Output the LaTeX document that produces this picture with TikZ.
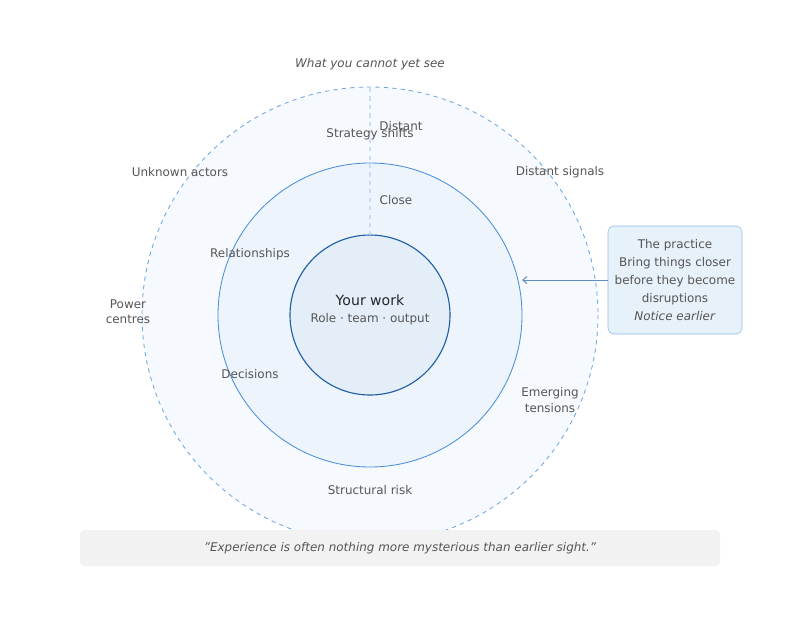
\documentclass[tikz,border=0pt]{standalone}
\usepackage{fontspec}
\setmainfont{DejaVu Sans}
\usetikzlibrary{arrows.meta,positioning}
\definecolor{ringblue}{HTML}{4A90D9}
\definecolor{coreblue}{HTML}{1F5FA8}
\definecolor{labelgray}{HTML}{555555}
\tikzset{
  lbl/.style = {font=\fontsize{8.5}{10.5}\selectfont, text=labelgray, align=center},
  ring/.style = {draw=ringblue, line width=0.6pt}
}
\begin{document}
\begin{tikzpicture}[x=0.025cm, y=-0.025cm]
    \useasboundingbox (0,0) rectangle (800,620);
    % rings
    \coordinate (c) at (370,315);
    \filldraw[ring, dashed, fill=ringblue!5, draw=ringblue!80] (c) circle (228);
    \filldraw[ring, fill=ringblue!10] (c) circle (152);
    \filldraw[draw=coreblue, line width=0.8pt, fill=ringblue!15] (c) circle (80);
    \draw[dashed, ringblue!30, line width=0.8pt] (370,88) -- (370,235);
    % quote
    \node[fill=black!5, rounded corners=3pt, minimum width=640*0.025cm, minimum height=36*0.025cm,
          font=\fontsize{8.5}{10}\selectfont\itshape, text=labelgray] (quote) at (400,548)
          {\symbol{34}Experience is often nothing more mysterious than earlier sight.\symbol{34}};
    \node[lbl, font=\fontsize{8.5}{10}\selectfont\itshape] (unseen) at (370,64) {What you cannot yet see};
    % core
    \node[font=\fontsize{10}{12}\selectfont, text=black!85] (work) at (370,300) {Your work};
    \node[lbl] (sub) at (370,319) {Role · team · output};
    % labels
    \node[lbl] at (401,126) {Distant};
    \node[lbl] at (370,134) {Strategy shifts};
    \node[lbl] at (396,200) {Close};
    \node[lbl] at (180,172) {Unknown actors};
    \node[lbl] at (560,172) {Distant signals};
    \node[lbl] at (250,254) {Relationships};
    \node[lbl] at (128,312) {Power\\centres};
    \node[lbl] at (250,374) {Decisions};
    \node[lbl, font=\fontsize{8.5}{11.5}\selectfont] at (550,400) {Emerging\\tensions};
    \node[lbl] at (370,490) {Structural risk};
    % practice
    \node[lbl, font=\fontsize{8.5}{12.8}\selectfont, draw=ringblue!60, fill=ringblue!13, rounded corners=4pt,
          minimum width=134*0.025cm, minimum height=108*0.025cm, inner sep=2pt] (practice) at (675,280)
          {The practice\\Bring things closer\\before they become\\disruptions\\\textit{Notice earlier}};
    \coordinate (edge) at (522,280);
    \draw[-{Straight Barb[length=3pt,width=5pt]}, draw=coreblue!70, line width=0.7pt] (practice.west) -- (edge);
\end{tikzpicture}
\end{document}
